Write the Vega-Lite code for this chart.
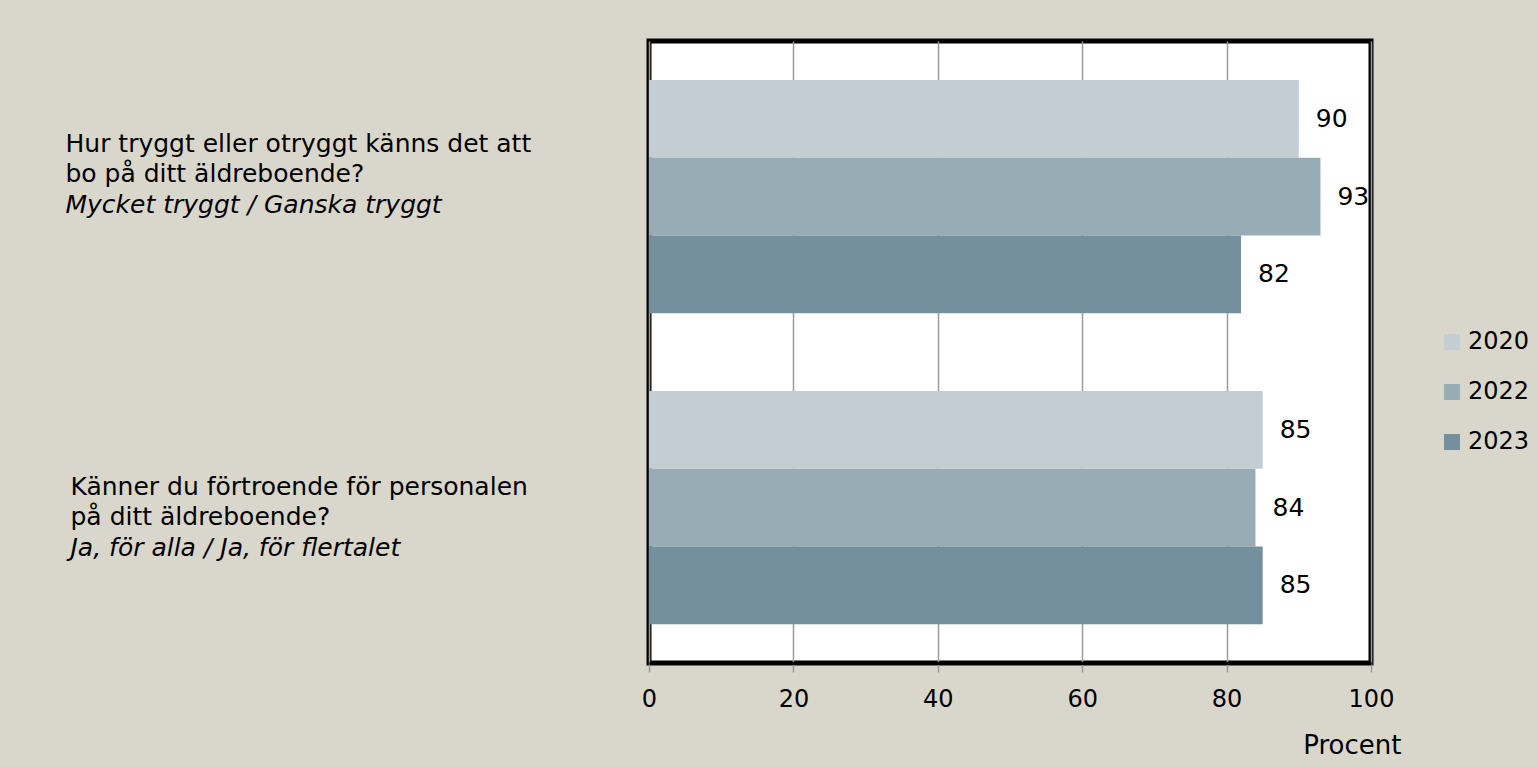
{
  "$schema": "https://vega.github.io/schema/vega-lite/v6.json",
  "autosize": {"type": "none"},
  "padding": {"left": 649, "top": 41, "right": 166, "bottom": 104},
  "width": 722,
  "height": 622,
  "background": "#d9d7cc",
  "config": {
    "font": "DejaVu Sans",
    "view": {"stroke": "#000000", "strokeWidth": 5, "fill": "#ffffff"}
  },
  "data": {
    "values": [
      {"fraga": "Hur tryggt eller otryggt känns det att|bo på ditt äldreboende?|Mycket tryggt / Ganska tryggt", "ar": "2020", "procent": 90},
      {"fraga": "Hur tryggt eller otryggt känns det att|bo på ditt äldreboende?|Mycket tryggt / Ganska tryggt", "ar": "2022", "procent": 93},
      {"fraga": "Hur tryggt eller otryggt känns det att|bo på ditt äldreboende?|Mycket tryggt / Ganska tryggt", "ar": "2023", "procent": 82},
      {"fraga": "Känner du förtroende för personalen|på ditt äldreboende?|Ja, för alla / Ja, för flertalet", "ar": "2020", "procent": 85},
      {"fraga": "Känner du förtroende för personalen|på ditt äldreboende?|Ja, för alla / Ja, för flertalet", "ar": "2022", "procent": 84},
      {"fraga": "Känner du förtroende för personalen|på ditt äldreboende?|Ja, för alla / Ja, för flertalet", "ar": "2023", "procent": 85}
    ]
  },
  "encoding": {
    "x": {
      "field": "procent", "type": "quantitative",
      "scale": {"domain": [0, 100], "nice": false},
      "axis": {
        "values": [0, 20, 40, 60, 80, 100],
        "grid": true, "gridColor": "#9a9a9a", "gridWidth": 1.5,
        "domain": true, "domainColor": "#000000", "domainWidth": 3,
        "ticks": true, "tickColor": "#9a9a9a", "tickSize": 9, "tickWidth": 1.5,
        "labelFontSize": 24, "labelColor": "#000000", "labelPadding": 15,
        "labelFlush": false,
        "title": "Procent", "titleFontSize": 26, "titleFontWeight": "normal", "titleColor": "#000000",
        "titleX": 752, "titleY": 90, "titleAlign": "right", "titleBaseline": "alphabetic"
      }
    },
    "yOffset": {"field": "ar", "type": "nominal", "sort": "ascending", "scale": {"paddingInner": 0, "paddingOuter": 0}},
    "color": {
      "field": "ar", "type": "nominal",
      "scale": {"domain": ["2020", "2022", "2023"], "range": ["#c3cdd3", "#98acb6", "#74909e"]},
      "legend": {
        "orient": "none", "legendX": 791, "legendY": 289,
        "title": null, "padding": 0,
        "symbolType": "square", "symbolSize": 256, "symbolStrokeWidth": 0,
        "labelFontSize": 24, "labelColor": "#000000", "labelOffset": 4,
        "rowPadding": 26
      }
    }
  },
  "layer": [
    {
      "mark": {"type": "bar"},
      "encoding": {
        "y": {
          "field": "fraga", "type": "nominal", "sort": null,
          "scale": {"paddingInner": 0.25, "paddingOuter": 0.125},
          "axis": {
            "orient": "left", "title": null, "domain": false, "ticks": false,
            "labelExpr": "slice(split(datum.value, '|'), 0, 2)",
            "labelAlign": "left", "labelBaseline": "middle",
            "labelFontSize": 25, "labelColor": "#000000", "labelLimit": 0, "labelLineHeight": 30,
            "labelPadding": {"condition": {"test": "indexof(datum.value, 'Hur') == 0", "value": 584}, "value": 579},
            "labelOffset": {"condition": {"test": "indexof(datum.value, 'Hur') == 0", "value": -53}, "value": -21}
          }
        }
      }
    },
    {
      "mark": {"type": "text", "align": "left", "baseline": "middle", "dx": 17, "fontSize": 25, "color": "#000000"},
      "encoding": {
        "y": {
          "field": "fraga", "type": "nominal", "sort": null,
          "axis": {
            "orient": "left", "title": null, "domain": false, "ticks": false,
            "labelExpr": "split(datum.value, '|')[2]",
            "labelAlign": "left", "labelBaseline": "middle",
            "labelFontSize": 25, "labelFontStyle": "italic", "labelColor": "#000000", "labelLimit": 0,
            "labelPadding": {"condition": {"test": "indexof(datum.value, 'Hur') == 0", "value": 584}, "value": 579},
            "labelOffset": {"condition": {"test": "indexof(datum.value, 'Hur') == 0", "value": 8}, "value": 40}
          }
        },
        "text": {"field": "procent", "type": "quantitative"},
        "color": {"value": "#000000"}
      }
    }
  ],
  "resolve": {"axis": {"y": "independent"}}
}
